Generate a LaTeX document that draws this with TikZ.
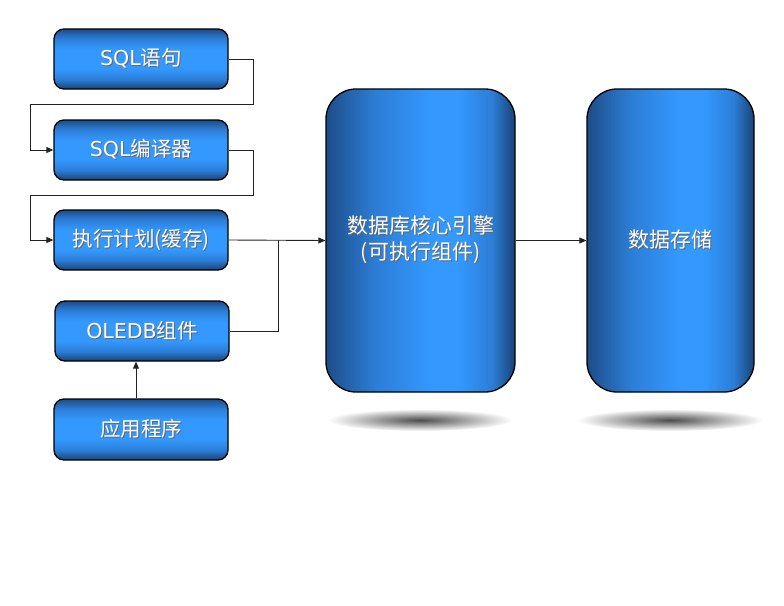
\documentclass[tikz,border=0pt]{standalone}
\usepackage{fontspec}
\setmainfont{Noto Sans CJK SC}
\newfontfamily\lat{DejaVu Sans}
\usetikzlibrary{arrows.meta,calc,shapes.geometric}
\definecolor{dkb}{HTML}{1A4274}
\definecolor{dkc}{HTML}{1E4D88}
\definecolor{mdb}{HTML}{2C7DD6}
\definecolor{brb}{HTML}{3399FF}
\definecolor{lnc}{HTML}{222222}
\pgfdeclareverticalshading{smallbox}{100bp}{color(0bp)=(dkb); color(25bp)=(dkb); color(33bp)=(mdb); color(42bp)=(brb); color(58bp)=(brb); color(67bp)=(mdb); color(75bp)=(dkc); color(100bp)=(dkc)}
\pgfdeclarehorizontalshading{bigbox}{100bp}{color(0bp)=(dkc); color(25bp)=(dkc); color(38bp)=(mdb); color(53bp)=(brb); color(60bp)=(brb); color(69bp)=(mdb); color(75bp)=(dkb); color(100bp)=(dkb)}
\newcommand\shtx[1]{\makebox[0pt][l]{\raisebox{-1pt}{\hspace{1pt}\textcolor{black!60}{#1}}}#1}
\tikzset{
  sbox/.style={draw=black, line width=1.3pt, rounded corners=10pt, shading=smallbox,
    minimum width=174pt, minimum height=60pt, text=white, font=\fontsize{20.5}{24}\selectfont, inner sep=0pt},
  bbox/.style={draw=black, line width=1.3pt, rounded corners=30pt, shading=bigbox,
    minimum height=303pt, text=white, font=\fontsize{21}{26}\selectfont, align=center, inner sep=0pt},
  conn/.style={draw=lnc, line width=0.9pt},
  arr/.style={conn, -{Triangle[length=7pt,width=6pt]}},
  floorshadow/.style={ellipse, shade, inner color=black!70, outer color=white, draw=none}
}
\begin{document}
\begin{tikzpicture}[x=1pt,y=-1pt]
\useasboundingbox (0,0) rectangle (784,605);
\node[floorshadow, minimum width=185pt, minimum height=22pt] (sh1) at (420,420) {};
\node[floorshadow, minimum width=185pt, minimum height=22pt] (sh2) at (670,420) {};
\node[sbox] (s1) at (141,59) {\shtx{{\lat SQL}语句}};
\node[sbox] (s2) at (141,150) {\shtx{{\lat SQL}编译器}};
\node[sbox] (s3) at (141,240) {\shtx{执行计划({缓存})}};
\node[sbox] (s4) at (142,331) {\shtx{{\lat OLEDB}组件}};
\node[sbox, minimum height=61pt] (s5) at (141,429.5) {\shtx{应用程序}};
\node[bbox, minimum width=189pt] (core) at (420.5,240.5) {\shtx{数据库核心引擎}\\\shtx{(可执行组件)}};
\node[bbox, minimum width=167pt] (store) at (670.5,240.5) {\shtx{数据存储}};
\coordinate (k1) at (253,104);
\coordinate (w1) at (30,150);
\coordinate (k2) at (253,195);
\coordinate (w2) at (30,240);
\coordinate (j) at (278,240);
\draw[arr] (s1.east) -| (k1) -| (w1) -- (s2.west);
\draw[arr] (s2.east) -| (k2) -| (w2) -- (s3.west);
\draw[arr] (s3.east) -- (core.west);
\draw[conn] (s4.east) -| (j);
\draw[arr] ($(s5.north)+(-5,0)$) -- ($(s4.south)+(-6,0)$);
\draw[arr] (core.east) -- (store.west);
\end{tikzpicture}
\end{document}
